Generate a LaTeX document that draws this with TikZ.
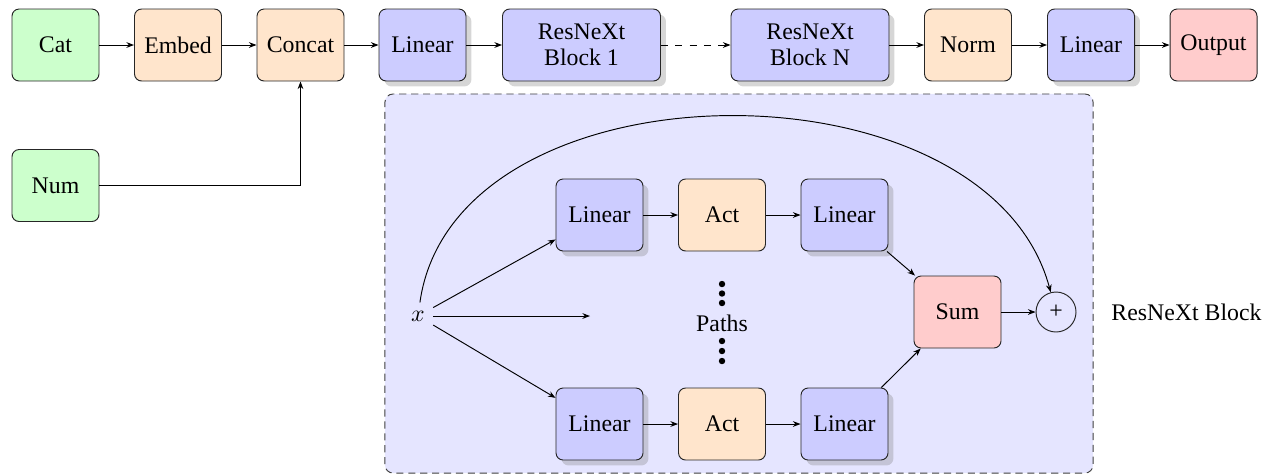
\documentclass[tikz,border=0pt]{standalone}
\usepackage{fontspec}
\setmainfont{Liberation Serif}
\usetikzlibrary{shadows,arrows.meta}
\begin{document}
\begin{tikzpicture}[x=0.42pt,y=-0.42pt,
  box/.style={draw=black!85, rounded corners=3pt, minimum width=36.54pt, minimum height=30.24pt,
    inner sep=2pt, align=center, font=\fontsize{10}{11}\selectfont},
  wide/.style={minimum width=66.36pt},
  grn/.style={box, fill=green!20},
  org/.style={box, fill=orange!20},
  blu/.style={box, fill=blue!20, drop shadow={opacity=0.32}},
  rd/.style={box, fill=red!20},
  arr/.style={-{Stealth[length=3.2pt,width=2.4pt]}, black},
  blockbg/.style={draw=black!75, dash pattern=on 3pt off 2pt, fill=blue!10, rounded corners=3.4pt,
    minimum width=297.4pt, minimum height=159.2pt, inner sep=0pt},
  plusnode/.style={circle, draw=black!85, minimum size=16.8pt, inner sep=0pt, font=\fontsize{10}{11}\selectfont},
]
\useasboundingbox (0,0) rectangle (1264,474);

% background of ResNeXt block
\node[blockbg] (bg) at (739,283.5) {};
\node[anchor=west, inner sep=0pt, font=\fontsize{10}{11}\selectfont] (bglabel) at (1111,312) {ResNeXt Block};

% top row
\node[grn] (cat) at (55.5,45) {Cat};
\node[org] (embed) at (178,45) {Embed};
\node[org] (concat) at (300.5,45) {Concat};
\node[blu] (lin0) at (422.5,45) {Linear};
\node[blu, wide] (b1) at (581.5,45) {ResNeXt\\Block 1};
\node[blu, wide] (bN) at (810,45) {ResNeXt\\Block N};
\node[org] (norm) at (968,45) {Norm};
\node[blu] (linout) at (1091,45) {Linear};
\node[rd] (out) at (1213.5,45) {Output};
\node[grn] (num) at (55.5,185.5) {Num};

\draw[arr] (cat) -- (embed);
\draw[arr] (embed) -- (concat);
\draw[arr] (concat) -- (lin0);
\draw[arr] (lin0) -- (b1);
\draw[arr, dashed] (b1) -- (bN);
\draw[arr] (bN) -- (norm);
\draw[arr] (norm) -- (linout);
\draw[arr] (linout) -- (out);
\draw[arr] (num) -| (concat);

% inner block
\node[font=\fontsize{10}{11}\selectfont] (x) at (418,316) {$x$};
\node[blu] (l1) at (599.5,215) {Linear};
\node[org] (a1) at (722,215) {Act};
\node[blu] (l2) at (844.5,215) {Linear};
\node[blu] (l3) at (599.5,424) {Linear};
\node[org] (a3) at (722,424) {Act};
\node[blu] (l4) at (844.5,424) {Linear};
\node[rd] (sum) at (957.5,312) {Sum};
\node[plusnode] (plus) at (1056,312) {+};
\node[font=\fontsize{10}{11}\selectfont] (paths) at (722,323) {Paths};
\coordinate (midend) at (590,316);

\foreach \yy in {284,293.5,303,341,351,361}
  \fill (722,\yy) circle[radius=1.35pt];

\draw[arr] (x) -- (l1);
\draw[arr] (x) -- (l3);
\draw[arr] (x) -- (midend);
\draw[arr] (l1) -- (a1);
\draw[arr] (a1) -- (l2);
\draw[arr] (l3) -- (a3);
\draw[arr] (a3) -- (l4);
\draw[arr] (l2) -- (sum);
\draw[arr] (l4) -- (sum);
\draw[arr] (sum) -- (plus);
\draw[arr] (x) to[out=82, in=105] (plus);
\end{tikzpicture}
\end{document}
